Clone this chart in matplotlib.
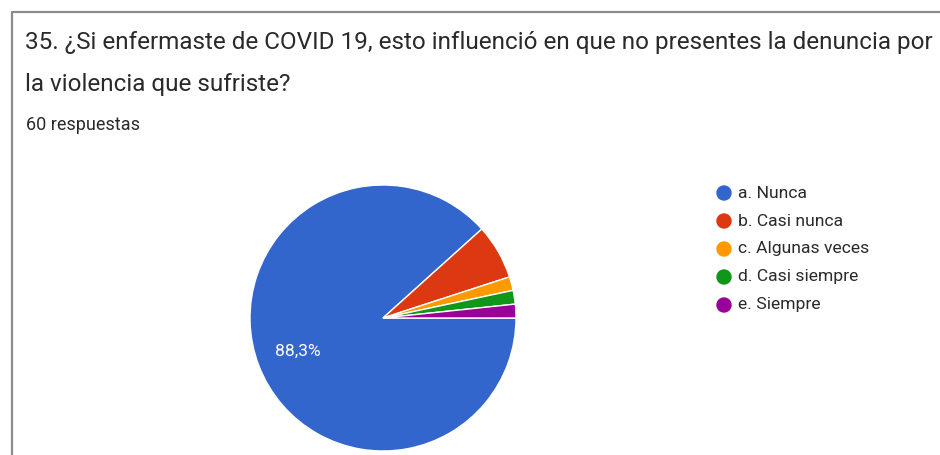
import matplotlib.pyplot as plt
from matplotlib.patches import Circle

plt.rcParams['font.family'] = ['Roboto', 'DejaVu Sans']

# Datos (60 respuestas)
labels = ["a. Nunca", "b. Casi nunca", "c. Algunas veces", "d. Casi siempre", "e. Siempre"]
counts = [53, 4, 1, 1, 1]
colors = ["#3366cc", "#dc3912", "#ff9900", "#109618", "#990099"]
title_lines = ["35. ¿Si enfermaste de COVID 19, esto influenció en que no presentes la denuncia por",
               "la violencia que sufriste?"]
subtitle = "60 respuestas"

W, H = 940, 455
fig = plt.figure(figsize=(W / 100, H / 100), dpi=100)
fig.patch.set_facecolor("white")

# Capa en pixeles para marco, textos y leyenda
ov = fig.add_axes([0, 0, 1, 1])
ov.set_xlim(0, W)
ov.set_ylim(H, 0)
ov.axis("off")

ov.plot([12, 12, W], [H, 12, 12], color="#8c8c8c", lw=1.6, solid_capstyle="butt")
ov.text(25, 43, title_lines[0], fontsize=17.5, color="#2a2a2a", va="center")
ov.text(25, 84, title_lines[1], fontsize=17.5, color="#2a2a2a", va="center")
ov.text(26, 125, subtitle, fontsize=13, color="#2a2a2a", va="center")

# Leyenda
for i, (lab, col) in enumerate(zip(labels, colors)):
    y = 193 + i * 28
    ov.add_patch(Circle((724, y), 7, color=col))
    ov.text(738, y, lab, fontsize=12.6, color="#2a2a2a", va="center")

# Pastel
cx, cy, r = 383, 318, 133
ax = fig.add_axes([(cx - r) / W, (H - cy - r) / H, 2 * r / W, 2 * r / H])
ax.pie(counts, colors=colors, startangle=0, counterclock=False,
       wedgeprops=dict(edgecolor="white", linewidth=1),
       autopct=lambda p: f"{p:.1f}%".replace(".", ",") if p > 10 else "",
       pctdistance=0.69, textprops=dict(color="white", fontsize=12.5))
ax.set_xlim(-1, 1)
ax.set_ylim(-1, 1)

fig.savefig("out.png", dpi=100)
